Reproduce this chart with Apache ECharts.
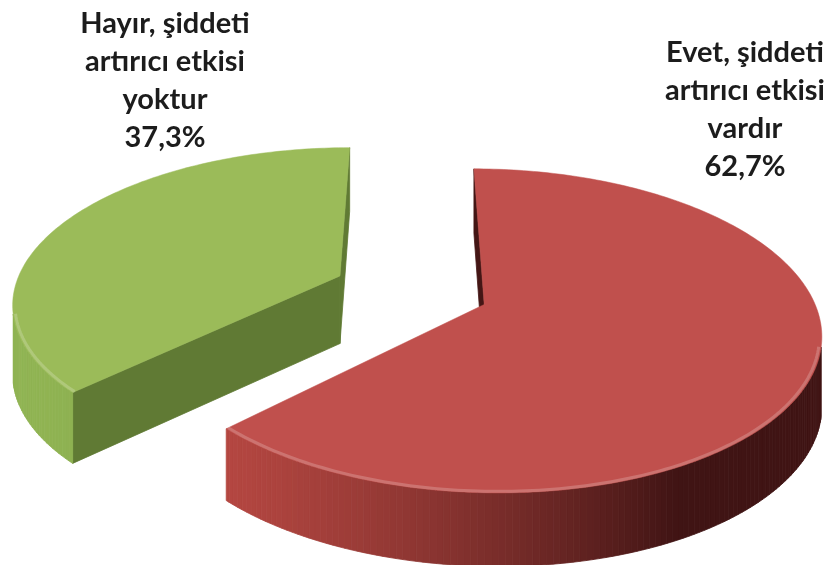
<!DOCTYPE html>
<html>
<head>
<meta charset="utf-8">
<script src="https://cdn.jsdelivr.net/npm/echarts@6/dist/echarts.min.js"></script>
<style>
  html, body { margin: 0; padding: 0; background: #ffffff; }
  #chart { width: 835px; height: 565px; }
</style>
</head>
<body>
<div id="chart"></div>
<script>
// Slice data, in drawing order round the pie (clockwise from 12 o'clock)
const categories = ['Evet, şiddeti\nartırıcı etkisi\nvardır', 'Hayır, şiddeti\nartırıcı etkisi\nyoktur'];
const values = [62.7, 37.3];

// Styling per slice
const topColors = ['#C0504D', '#9BBB59'];
const wallBright = [[188, 74, 68], [146, 182, 84]];
const wallDark = [[64, 20, 20], [74, 96, 38]];
const radialShade = [0.03, 0.3];
const labelPos = [[745, 110], [165, 81]];

// Camera / pie geometry (unit radius pie); wall drop given in pixels
const VIEW = { cx: 411, cy: 290, k: 326, D: 5.5, tilt: 28, drop: 68, dropPersp: 0.4, explode: 0.24 };
const TA = VIEW.tilt * Math.PI / 180;
const CAM = [0, VIEW.D * Math.sin(TA), -VIEW.D * Math.cos(TA)];
const LIGHT = (function () { const l = [-0.85, 0.2, -0.45]; const n = Math.hypot(l[0], l[1], l[2]); return l.map(c => c / n); })();

// y = 0 is the top face, y = 1 the bottom face
function project(x, y, z) {
  const v = z * Math.sin(TA);
  const d = z * Math.cos(TA);
  const s = VIEW.k * VIEW.D / (VIEW.D + d);
  return [VIEW.cx + x * s, VIEW.cy - v * s + y * VIEW.drop * Math.pow(s / VIEW.k, VIEW.dropPersp)];
}
function depth(x, y, z) { return z * Math.cos(TA) - y * 0.01; }
const rad = a => a * Math.PI / 180;
function mix(c0, c1, t) {
  t = Math.max(0, Math.min(1, t));
  return 'rgb(' + c0.map((c, i) => Math.round(c + (c1[i] - c) * t)).join(',') + ')';
}

const TOTAL = values.reduce((a, b) => a + b, 0);
const slices = [];
(function () {
  let acc = 0;
  values.forEach((v, i) => {
    const a0 = acc / TOTAL * 360;
    acc += v;
    const a1 = acc / TOTAL * 360;
    const mid = rad((a0 + a1) / 2);
    slices.push({ i, a0, a1, ox: VIEW.explode * Math.sin(mid), oz: VIEW.explode * Math.cos(mid) });
  });
})();
// far slices first
const drawOrder = slices.slice().sort((a, b) => b.oz - a.oz).map(s => s.i);

function visible(n, p) {
  return n[0] * (CAM[0] - p[0]) + n[2] * (CAM[2] - p[2]) > 0;
}

function renderSlice(idx) {
  const s = slices[idx];
  const pt = (a, r, y) => [s.ox + r * Math.sin(rad(a)), y, s.oz + r * Math.cos(rad(a))];
  const P = p => project(p[0], p[1], p[2]);
  const faces = [];
  const angles = [];
  for (let a = s.a0; a < s.a1; a += 1) angles.push(a);
  angles.push(s.a1);

  // outer curved wall
  for (let j = 0; j < angles.length - 1; j++) {
    const b0 = angles[j], b1 = angles[j + 1], bm = (b0 + b1) / 2;
    const n = [Math.sin(rad(bm)), 0, Math.cos(rad(bm))];
    const pm = pt(bm, 1, 0);
    if (!visible(n, pm)) continue;
    const lit = n[0] * LIGHT[0] + n[2] * LIGHT[2];
    const col = mix(wallDark[idx], wallBright[idx], lit);
    const q = [pt(b0, 1, 0), pt(b1, 1, 0), pt(b1, 1, 1), pt(b0, 1, 1)].map(P);
    faces.push({ d: depth(pm[0], 0, pm[2]), el: { type: 'polygon', shape: { points: q }, style: { fill: col, stroke: col, lineWidth: 0.8 } } });
  }
  // radial walls
  [[s.a0, s.a0 - 90], [s.a1, s.a1 + 90]].forEach(([a, na]) => {
    const n = [Math.sin(rad(na)), 0, Math.cos(rad(na))];
    const pm = pt(a, 0.5, 0);
    if (!visible(n, pm)) return;
    const col = mix(wallDark[idx], wallBright[idx], radialShade[idx]);
    const q = [pt(a, 0, 0), pt(a, 1, 0), pt(a, 1, 1), pt(a, 0, 1)].map(P);
    faces.push({ d: depth(pm[0], 0, pm[2]), el: { type: 'polygon', shape: { points: q }, style: { fill: col, stroke: col, lineWidth: 0.8 } } });
  });
  faces.sort((a, b) => b.d - a.d);

  const children = faces.map(f => f.el);
  // top face
  const topPts = [pt(0, 0, 0)].concat(angles.map(a => pt(a, 1, 0))).map(P);
  children.push({ type: 'polygon', shape: { points: topPts }, style: { fill: topColors[idx], stroke: topColors[idx], lineWidth: 0.5 } });
  // soft bevel along the near rim
  let run = [];
  const runs = [];
  angles.forEach(a => {
    const n = [Math.sin(rad(a)), 0, Math.cos(rad(a))];
    if (visible(n, pt(a, 1, 0))) run.push(P(pt(a, 0.993, 0)));
    else if (run.length) { runs.push(run); run = []; }
  });
  if (run.length) runs.push(run);
  runs.forEach(r => children.push({ type: 'polyline', shape: { points: r }, style: { stroke: 'rgba(255,255,255,0.2)', lineWidth: 3, fill: null } }));

  // label
  const txt = categories[idx] + '\n' + values[idx].toFixed(1).replace('.', ',') + '%';
  children.push({
    type: 'text',
    style: {
      text: txt, x: labelPos[idx][0], y: labelPos[idx][1],
      align: 'center', verticalAlign: 'middle',
      fontFamily: 'Lato', fontWeight: 'bold', fontSize: 29, lineHeight: 38,
      fill: '#1c1c1c'
    }
  });
  return children;
}

const chart = echarts.init(document.getElementById('chart'), null, { renderer: 'canvas' });
chart.setOption({
  backgroundColor: '#ffffff',
  animation: false,
  series: [{
    type: 'custom',
    coordinateSystem: 'none',
    data: drawOrder.map(i => ({ name: categories[i], value: values[i] })),
    renderItem: function (params, api) {
      const idx = drawOrder[params.dataIndex];
      return { type: 'group', children: renderSlice(idx) };
    }
  }]
});
</script>
</body>
</html>
